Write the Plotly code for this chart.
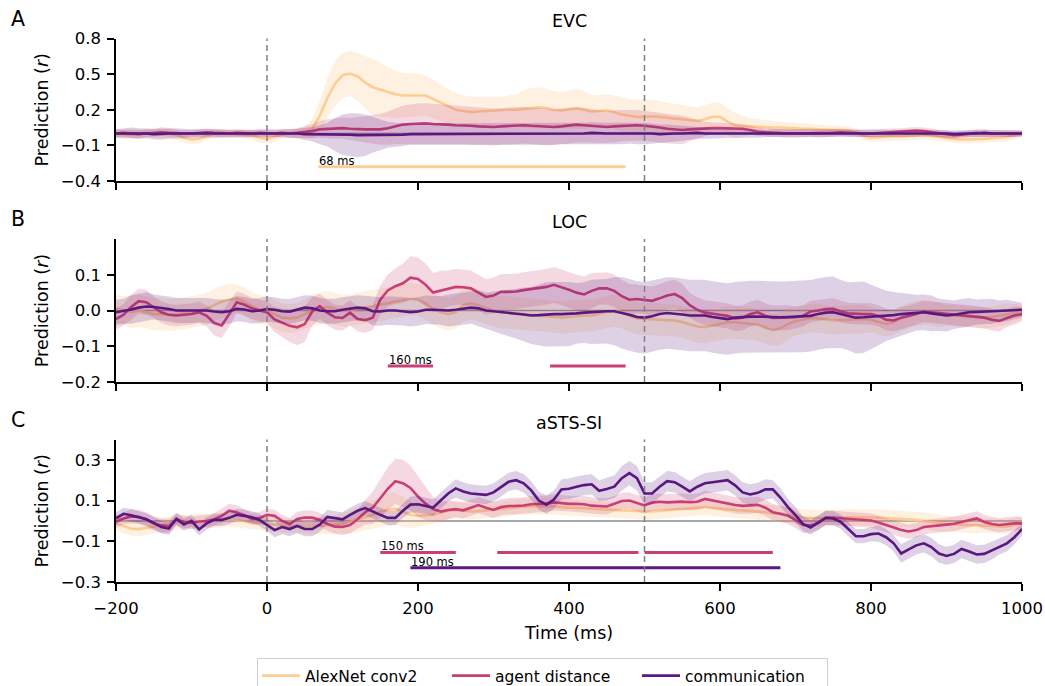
import numpy as np
import plotly.graph_objects as go

# ---------------------------------------------------------------------------
# Data: mean prediction (r) and error half-width, sampled every 10 ms
# ---------------------------------------------------------------------------
time_ms = list(range(-200, 1001, 10))

# EVC
evc_alexnet = [
    0.0, -0.005, -0.01, -0.005, 0.005, 0.0, -0.005, 0.0, -0.01, -0.035,
    -0.05, -0.045, -0.02, 0.0, 0.005, 0.0, 0.0, -0.005, -0.015, -0.035,
    -0.045, -0.03, -0.01, 0.0, 0.0, 0.01, 0.04, 0.15, 0.3, 0.42,
    0.49, 0.505, 0.48, 0.43, 0.39, 0.37, 0.35, 0.33, 0.32, 0.32,
    0.325, 0.32, 0.29, 0.26, 0.23, 0.2, 0.19, 0.18, 0.185, 0.19,
    0.19, 0.195, 0.2, 0.2, 0.205, 0.215, 0.22, 0.215, 0.2, 0.195,
    0.2, 0.21, 0.2, 0.185, 0.19, 0.195, 0.18, 0.16, 0.15, 0.14,
    0.14, 0.145, 0.14, 0.13, 0.125, 0.12, 0.11, 0.105, 0.12, 0.14,
    0.14, 0.1, 0.07, 0.06, 0.06, 0.055, 0.055, 0.05, 0.05, 0.045,
    0.045, 0.04, 0.04, 0.035, 0.035, 0.03, 0.03, 0.025, 0.01, -0.02,
    -0.035, -0.03, -0.03, -0.025, -0.025, -0.02, -0.02, -0.015, -0.02, -0.03,
    -0.04, -0.045, -0.05, -0.05, -0.045, -0.045, -0.04, -0.035, -0.03, -0.015,
    0.0,
]
evc_alexnet_err = [
    0.04, 0.04, 0.035, 0.035, 0.035, 0.035, 0.04, 0.04, 0.04, 0.04,
    0.04, 0.04, 0.035, 0.035, 0.035, 0.035, 0.035, 0.035, 0.04, 0.04,
    0.04, 0.04, 0.035, 0.035, 0.04, 0.05, 0.08, 0.13, 0.17, 0.19,
    0.19, 0.19, 0.2, 0.22, 0.24, 0.23, 0.21, 0.2, 0.19, 0.185,
    0.18, 0.17, 0.16, 0.15, 0.145, 0.14, 0.135, 0.13, 0.125, 0.12,
    0.115, 0.115, 0.12, 0.13, 0.16, 0.17, 0.17, 0.165, 0.16, 0.155,
    0.16, 0.17, 0.16, 0.14, 0.135, 0.135, 0.14, 0.145, 0.145, 0.14,
    0.15, 0.14, 0.135, 0.13, 0.125, 0.12, 0.115, 0.115, 0.12, 0.12,
    0.12, 0.115, 0.11, 0.09, 0.07, 0.065, 0.06, 0.055, 0.05, 0.05,
    0.045, 0.04, 0.04, 0.04, 0.035, 0.035, 0.035, 0.035, 0.035, 0.035,
    0.035, 0.035, 0.035, 0.035, 0.035, 0.035, 0.035, 0.035, 0.035, 0.035,
    0.035, 0.035, 0.035, 0.035, 0.035, 0.035, 0.035, 0.035, 0.035, 0.03,
    0.03,
]
evc_agent = [
    0.0, 0.005, 0.0, -0.005, 0.0, 0.005, 0.01, 0.005, 0.0, 0.0,
    0.0, 0.005, 0.01, 0.005, 0.0, 0.0, 0.005, 0.0, 0.0, 0.005,
    0.0, 0.0, 0.005, 0.0, 0.005, 0.01, 0.02, 0.035, 0.04, 0.04,
    0.045, 0.04, 0.035, 0.035, 0.035, 0.035, 0.045, 0.06, 0.075, 0.08,
    0.085, 0.085, 0.08, 0.08, 0.075, 0.07, 0.07, 0.065, 0.06, 0.055,
    0.055, 0.06, 0.065, 0.065, 0.07, 0.065, 0.06, 0.055, 0.055, 0.06,
    0.065, 0.075, 0.07, 0.065, 0.06, 0.055, 0.06, 0.065, 0.07, 0.07,
    0.065, 0.06, 0.05, 0.04, 0.035, 0.03, 0.035, 0.04, 0.04, 0.045,
    0.045, 0.045, 0.045, 0.04, 0.03, 0.015, 0.01, 0.005, 0.005, 0.0,
    0.0, 0.0, 0.005, 0.0, 0.0, 0.005, 0.01, 0.005, 0.0, 0.0,
    0.0, 0.005, 0.01, 0.01, 0.015, 0.02, 0.025, 0.02, 0.01, 0.0,
    -0.01, -0.015, -0.01, 0.0, 0.005, 0.0, 0.0, 0.005, 0.005, 0.0,
    0.0,
]
evc_agent_err = [
    0.03, 0.03, 0.035, 0.035, 0.03, 0.03, 0.03, 0.03, 0.03, 0.03,
    0.03, 0.03, 0.03, 0.03, 0.03, 0.03, 0.03, 0.03, 0.03, 0.03,
    0.03, 0.03, 0.03, 0.035, 0.04, 0.05, 0.06, 0.07, 0.08, 0.085,
    0.09, 0.09, 0.1, 0.11, 0.12, 0.13, 0.14, 0.15, 0.16, 0.165,
    0.17, 0.17, 0.17, 0.165, 0.165, 0.16, 0.16, 0.16, 0.155, 0.155,
    0.155, 0.155, 0.155, 0.155, 0.155, 0.155, 0.155, 0.155, 0.15, 0.15,
    0.15, 0.15, 0.145, 0.14, 0.14, 0.135, 0.135, 0.13, 0.13, 0.13,
    0.125, 0.125, 0.125, 0.125, 0.125, 0.12, 0.1, 0.08, 0.06, 0.05,
    0.045, 0.04, 0.04, 0.04, 0.035, 0.035, 0.035, 0.035, 0.035, 0.035,
    0.035, 0.035, 0.035, 0.035, 0.035, 0.03, 0.03, 0.03, 0.03, 0.03,
    0.03, 0.03, 0.03, 0.03, 0.03, 0.03, 0.03, 0.03, 0.03, 0.03,
    0.03, 0.03, 0.03, 0.03, 0.03, 0.03, 0.03, 0.03, 0.03, 0.03,
    0.025,
]
evc_comm = [
    0.0, 0.0, 0.005, 0.0, 0.0, -0.005, 0.0, 0.0, 0.0, 0.0,
    0.0, 0.0, 0.005, 0.0, 0.0, 0.0, 0.0, 0.0, 0.0, 0.0,
    0.0, 0.0, 0.0, 0.0, 0.0, -0.005, -0.005, -0.01, -0.01, -0.01,
    -0.01, -0.01, -0.015, -0.015, -0.01, -0.01, -0.01, -0.01, -0.01, -0.005,
    -0.005, -0.005, -0.005, 0.0, 0.0, -0.005, -0.005, -0.005, 0.0, 0.0,
    0.0, -0.005, -0.005, 0.0, 0.0, 0.0, 0.0, -0.005, -0.005, 0.0,
    0.0, 0.0, 0.0, 0.005, 0.0, 0.0, 0.0, 0.0, 0.005, 0.0,
    0.0, 0.0, -0.005, 0.0, 0.0, 0.0, 0.005, 0.005, 0.0, 0.0,
    0.0, 0.005, 0.005, 0.005, 0.0, 0.0, 0.0, 0.005, 0.005, 0.005,
    0.005, 0.005, 0.0, 0.0, 0.005, 0.005, 0.0, 0.0, 0.0, 0.0,
    0.0, 0.005, 0.005, 0.0, 0.0, 0.0, 0.0, 0.005, 0.005, 0.0,
    0.0, -0.005, 0.0, 0.0, 0.0, 0.005, 0.0, 0.0, 0.0, 0.0,
    0.0,
]
evc_comm_err = [
    0.035, 0.04, 0.045, 0.045, 0.04, 0.045, 0.05, 0.045, 0.04, 0.04,
    0.035, 0.035, 0.035, 0.035, 0.03, 0.03, 0.03, 0.03, 0.03, 0.03,
    0.03, 0.03, 0.03, 0.035, 0.04, 0.05, 0.06, 0.08, 0.1, 0.14,
    0.17, 0.18, 0.185, 0.175, 0.15, 0.13, 0.11, 0.1, 0.095, 0.09,
    0.09, 0.09, 0.09, 0.09, 0.09, 0.09, 0.09, 0.09, 0.09, 0.09,
    0.09, 0.09, 0.09, 0.09, 0.09, 0.09, 0.09, 0.09, 0.09, 0.09,
    0.09, 0.09, 0.09, 0.09, 0.09, 0.09, 0.09, 0.09, 0.09, 0.09,
    0.09, 0.085, 0.08, 0.075, 0.07, 0.06, 0.055, 0.05, 0.045, 0.045,
    0.04, 0.04, 0.035, 0.035, 0.035, 0.035, 0.03, 0.03, 0.03, 0.03,
    0.03, 0.03, 0.03, 0.03, 0.03, 0.03, 0.03, 0.03, 0.03, 0.03,
    0.03, 0.03, 0.03, 0.03, 0.03, 0.03, 0.03, 0.03, 0.03, 0.03,
    0.03, 0.03, 0.03, 0.03, 0.03, 0.03, 0.03, 0.03, 0.03, 0.03,
    0.025,
]

# LOC
loc_alexnet = [
    0.005, 0.0, -0.005, 0.0, -0.005, -0.01, -0.01, -0.012, -0.01, -0.008,
    -0.005, 0.0, 0.005, 0.015, 0.025, 0.03, 0.033, 0.025, 0.012, 0.003,
    0.0, -0.01, -0.02, -0.022, -0.02, -0.01, 0.0, 0.005, 0.01, 0.005,
    0.0, 0.0, 0.005, 0.01, 0.012, 0.015, 0.02, 0.025, 0.028, 0.032,
    0.03, 0.02, 0.005, -0.005, -0.01, -0.005, 0.015, 0.02, 0.015, 0.007,
    0.0, -0.005, -0.005, -0.008, -0.01, -0.012, -0.013, -0.014, -0.016, -0.02,
    -0.018, -0.015, -0.014, -0.014, -0.01, -0.005, 0.0, -0.005, -0.015, -0.022,
    -0.024, -0.025, -0.026, -0.027, -0.028, -0.032, -0.038, -0.045, -0.047, -0.042,
    -0.038, -0.033, -0.033, -0.035, -0.037, -0.04, -0.048, -0.055, -0.05, -0.038,
    -0.03, -0.025, -0.021, -0.022, -0.025, -0.028, -0.027, -0.025, -0.024, -0.024,
    -0.026, -0.032, -0.037, -0.033, -0.022, -0.015, -0.008, -0.005, -0.008, -0.012,
    -0.013, -0.014, -0.015, -0.016, -0.018, -0.02, -0.018, -0.014, -0.01, -0.007,
    -0.005,
]
loc_alexnet_err = [
    0.04, 0.04, 0.045, 0.045, 0.045, 0.045, 0.045, 0.045, 0.045, 0.045,
    0.045, 0.045, 0.045, 0.045, 0.045, 0.045, 0.04, 0.04, 0.04, 0.04,
    0.04, 0.04, 0.04, 0.04, 0.04, 0.04, 0.045, 0.045, 0.045, 0.045,
    0.045, 0.045, 0.045, 0.045, 0.045, 0.045, 0.045, 0.045, 0.045, 0.045,
    0.045, 0.045, 0.045, 0.045, 0.045, 0.045, 0.045, 0.045, 0.045, 0.045,
    0.045, 0.045, 0.045, 0.045, 0.045, 0.045, 0.045, 0.045, 0.045, 0.045,
    0.045, 0.045, 0.045, 0.045, 0.045, 0.045, 0.045, 0.045, 0.045, 0.045,
    0.045, 0.045, 0.045, 0.045, 0.045, 0.045, 0.045, 0.045, 0.045, 0.045,
    0.045, 0.045, 0.045, 0.045, 0.045, 0.045, 0.045, 0.045, 0.045, 0.045,
    0.04, 0.04, 0.04, 0.04, 0.04, 0.04, 0.04, 0.04, 0.04, 0.04,
    0.035, 0.035, 0.035, 0.035, 0.035, 0.035, 0.035, 0.035, 0.035, 0.035,
    0.03, 0.03, 0.03, 0.03, 0.03, 0.03, 0.03, 0.03, 0.03, 0.025,
    0.02,
]
loc_agent = [
    -0.024, -0.012, 0.01, 0.026, 0.023, 0.01, -0.005, -0.012, -0.014, -0.012,
    -0.01, -0.005, -0.015, -0.035, -0.042, -0.01, 0.023, 0.016, 0.006, 0.0,
    -0.005, -0.025, -0.035, -0.043, -0.047, -0.038, -0.002, 0.012, -0.006, -0.019,
    -0.021, -0.006, -0.024, -0.027, -0.02, 0.03, 0.056, 0.068, 0.076, 0.092,
    0.088, 0.072, 0.05, 0.056, 0.062, 0.066, 0.065, 0.062, 0.05, 0.038,
    0.042, 0.052, 0.052, 0.053, 0.057, 0.06, 0.063, 0.066, 0.072, 0.066,
    0.058, 0.05, 0.045, 0.055, 0.062, 0.062, 0.055, 0.04, 0.03, 0.032,
    0.03, 0.027, 0.034, 0.042, 0.046, 0.035, 0.015, 0.002, -0.006, -0.01,
    -0.012, -0.015, -0.022, -0.02, -0.01, -0.005, -0.015, -0.021, -0.02, -0.02,
    -0.019, -0.015, -0.003, 0.0, 0.004, 0.005, -0.003, -0.008, -0.01, -0.01,
    -0.01, -0.015, -0.026, -0.028, -0.02, -0.016, -0.01, -0.003, -0.005, -0.008,
    -0.011, -0.012, -0.013, -0.015, -0.018, -0.02, -0.026, -0.029, -0.021, -0.014,
    -0.01,
]
loc_agent_err = [
    0.03, 0.03, 0.035, 0.035, 0.035, 0.03, 0.03, 0.03, 0.03, 0.03,
    0.03, 0.03, 0.03, 0.035, 0.035, 0.035, 0.03, 0.03, 0.03, 0.03,
    0.03, 0.035, 0.04, 0.045, 0.05, 0.05, 0.04, 0.035, 0.035, 0.035,
    0.035, 0.035, 0.035, 0.035, 0.035, 0.04, 0.045, 0.05, 0.055, 0.06,
    0.06, 0.06, 0.055, 0.055, 0.05, 0.05, 0.05, 0.05, 0.05, 0.05,
    0.05, 0.05, 0.05, 0.05, 0.05, 0.05, 0.05, 0.05, 0.05, 0.05,
    0.05, 0.05, 0.05, 0.05, 0.045, 0.045, 0.045, 0.045, 0.045, 0.04,
    0.04, 0.04, 0.04, 0.04, 0.04, 0.04, 0.035, 0.035, 0.035, 0.035,
    0.035, 0.035, 0.035, 0.035, 0.035, 0.035, 0.035, 0.035, 0.035, 0.035,
    0.03, 0.03, 0.03, 0.03, 0.03, 0.03, 0.03, 0.03, 0.03, 0.03,
    0.03, 0.03, 0.03, 0.03, 0.03, 0.03, 0.03, 0.03, 0.03, 0.03,
    0.03, 0.03, 0.03, 0.03, 0.03, 0.03, 0.03, 0.03, 0.025, 0.025,
    0.02,
]
loc_comm = [
    -0.005, -0.002, 0.003, 0.008, 0.011, 0.01, 0.008, 0.004, 0.0, 0.0,
    0.0, 0.002, 0.0, -0.003, -0.005, -0.002, 0.005, 0.003, -0.002, 0.0,
    0.004, 0.002, -0.002, -0.003, 0.002, 0.008, 0.006, 0.0, -0.002, -0.002,
    0.002, 0.005, 0.008, 0.006, -0.002, -0.003, 0.0, 0.0, -0.002, -0.005,
    -0.003, 0.002, 0.002, 0.0, 0.0, 0.002, 0.005, 0.008, 0.006, 0.0,
    -0.002, -0.005, -0.007, -0.009, -0.011, -0.014, -0.013, -0.011, -0.01, -0.01,
    -0.01, -0.008, -0.006, -0.004, -0.003, -0.002, -0.002, -0.006, -0.012, -0.018,
    -0.02, -0.016, -0.01, -0.007, -0.008, -0.011, -0.014, -0.014, -0.014, -0.018,
    -0.022, -0.024, -0.02, -0.018, -0.017, -0.017, -0.018, -0.019, -0.019, -0.018,
    -0.017, -0.017, -0.015, -0.01, -0.006, -0.005, -0.01, -0.016, -0.02, -0.019,
    -0.018, -0.017, -0.015, -0.013, -0.01, -0.008, -0.006, -0.005, -0.008, -0.012,
    -0.014, -0.012, -0.008, -0.005, -0.004, -0.003, -0.002, -0.002, 0.0, 0.001,
    0.002,
]
loc_comm_err = [
    0.035, 0.035, 0.04, 0.04, 0.04, 0.035, 0.035, 0.035, 0.035, 0.035,
    0.035, 0.035, 0.035, 0.035, 0.035, 0.035, 0.035, 0.035, 0.035, 0.035,
    0.035, 0.035, 0.035, 0.035, 0.035, 0.035, 0.035, 0.035, 0.035, 0.035,
    0.035, 0.035, 0.035, 0.035, 0.04, 0.04, 0.04, 0.04, 0.04, 0.04,
    0.04, 0.04, 0.04, 0.04, 0.045, 0.045, 0.045, 0.045, 0.05, 0.05,
    0.055, 0.06, 0.065, 0.07, 0.075, 0.08, 0.085, 0.09, 0.09, 0.09,
    0.09, 0.085, 0.085, 0.09, 0.09, 0.09, 0.095, 0.1, 0.1, 0.1,
    0.1, 0.1, 0.1, 0.1, 0.1, 0.1, 0.1, 0.1, 0.1, 0.1,
    0.1, 0.1, 0.1, 0.1, 0.1, 0.1, 0.1, 0.1, 0.1, 0.1,
    0.1, 0.1, 0.1, 0.1, 0.1, 0.1, 0.095, 0.095, 0.1, 0.1,
    0.09, 0.08, 0.07, 0.065, 0.06, 0.055, 0.05, 0.05, 0.05, 0.045,
    0.045, 0.04, 0.04, 0.04, 0.035, 0.035, 0.035, 0.03, 0.03, 0.025,
    0.02,
]

# aSTS-SI
asts_alexnet = [
    -0.012, -0.025, -0.038, -0.04, -0.035, -0.028, -0.02, -0.012, -0.008, -0.005,
    -0.003, 0.0, 0.0, 0.002, 0.005, 0.005, 0.003, 0.0, -0.005, -0.01,
    -0.015, -0.02, -0.022, -0.025, -0.025, -0.026, -0.025, -0.025, -0.022, -0.018,
    -0.012, -0.005, 0.005, 0.018, 0.03, 0.045, 0.055, 0.06, 0.045, 0.03,
    0.025, 0.028, 0.03, 0.04, 0.05, 0.054, 0.05, 0.046, 0.048, 0.052,
    0.054, 0.058, 0.065, 0.068, 0.07, 0.071, 0.072, 0.073, 0.072, 0.068,
    0.066, 0.062, 0.06, 0.058, 0.056, 0.054, 0.053, 0.051, 0.05, 0.048,
    0.046, 0.047, 0.05, 0.053, 0.054, 0.058, 0.062, 0.066, 0.068, 0.064,
    0.06, 0.057, 0.054, 0.052, 0.05, 0.046, 0.043, 0.038, 0.034, 0.029,
    0.024, 0.018, 0.014, 0.013, 0.014, 0.016, 0.018, 0.018, 0.018, 0.018,
    0.018, 0.016, 0.014, 0.012, 0.01, 0.008, 0.005, 0.0, -0.005, -0.012,
    -0.015, -0.017, -0.018, -0.019, -0.02, -0.022, -0.025, -0.027, -0.028, -0.02,
    -0.008,
]
asts_alexnet_err = [
    0.035, 0.035, 0.035, 0.035, 0.035, 0.035, 0.035, 0.035, 0.035, 0.035,
    0.035, 0.035, 0.035, 0.035, 0.035, 0.035, 0.035, 0.035, 0.035, 0.035,
    0.035, 0.035, 0.035, 0.035, 0.035, 0.035, 0.04, 0.04, 0.04, 0.045,
    0.05, 0.055, 0.06, 0.065, 0.07, 0.075, 0.08, 0.08, 0.075, 0.065,
    0.055, 0.05, 0.045, 0.045, 0.045, 0.04, 0.04, 0.04, 0.04, 0.04,
    0.04, 0.04, 0.04, 0.04, 0.04, 0.04, 0.04, 0.04, 0.04, 0.04,
    0.04, 0.04, 0.04, 0.04, 0.04, 0.04, 0.04, 0.04, 0.04, 0.04,
    0.04, 0.04, 0.04, 0.04, 0.04, 0.04, 0.04, 0.04, 0.04, 0.04,
    0.04, 0.04, 0.04, 0.04, 0.04, 0.04, 0.04, 0.04, 0.04, 0.04,
    0.04, 0.04, 0.04, 0.04, 0.04, 0.04, 0.04, 0.04, 0.04, 0.04,
    0.04, 0.04, 0.04, 0.04, 0.04, 0.04, 0.04, 0.04, 0.04, 0.04,
    0.04, 0.04, 0.04, 0.04, 0.04, 0.035, 0.035, 0.035, 0.035, 0.035,
    0.03,
]
asts_agent = [
    -0.003, 0.012, 0.022, 0.02, 0.008, -0.012, -0.022, -0.026, 0.008, -0.005,
    -0.01, -0.003, 0.0, 0.008, 0.025, 0.05, 0.042, 0.028, 0.01, 0.014,
    0.03, 0.025, 0.0, -0.015, 0.01, 0.017, 0.016, 0.005, -0.015, -0.028,
    -0.03, -0.02, 0.008, 0.043, 0.065, 0.11, 0.158, 0.195, 0.185, 0.162,
    0.12, 0.085, 0.058, 0.046, 0.054, 0.058, 0.052, 0.065, 0.078, 0.065,
    0.054, 0.068, 0.073, 0.074, 0.076, 0.082, 0.082, 0.085, 0.091, 0.087,
    0.084, 0.084, 0.082, 0.075, 0.073, 0.071, 0.084, 0.098, 0.1, 0.087,
    0.076, 0.09, 0.094, 0.091, 0.094, 0.095, 0.092, 0.094, 0.108, 0.1,
    0.091, 0.084, 0.078, 0.074, 0.075, 0.079, 0.065, 0.043, 0.035, 0.025,
    0.005, -0.02, -0.022, -0.01, 0.015, 0.016, 0.013, 0.01, 0.008, 0.005,
    0.002, -0.008, -0.02, -0.033, -0.045, -0.052, -0.045, -0.03, -0.025, -0.02,
    -0.018, -0.014, -0.006, 0.004, 0.012, -0.005, -0.015, -0.02, -0.016, -0.012,
    -0.012,
]
asts_agent_err = [
    0.03, 0.03, 0.035, 0.035, 0.035, 0.035, 0.035, 0.035, 0.03, 0.03,
    0.03, 0.03, 0.03, 0.03, 0.035, 0.035, 0.035, 0.03, 0.03, 0.03,
    0.03, 0.03, 0.03, 0.03, 0.035, 0.035, 0.035, 0.035, 0.035, 0.035,
    0.04, 0.04, 0.045, 0.06, 0.08, 0.095, 0.105, 0.11, 0.115, 0.11,
    0.1, 0.08, 0.06, 0.05, 0.045, 0.04, 0.04, 0.04, 0.04, 0.04,
    0.04, 0.04, 0.04, 0.04, 0.04, 0.04, 0.04, 0.04, 0.04, 0.04,
    0.04, 0.04, 0.04, 0.04, 0.04, 0.04, 0.04, 0.04, 0.04, 0.04,
    0.04, 0.04, 0.04, 0.04, 0.04, 0.04, 0.04, 0.04, 0.04, 0.04,
    0.04, 0.04, 0.04, 0.04, 0.04, 0.04, 0.04, 0.04, 0.04, 0.04,
    0.04, 0.04, 0.035, 0.035, 0.035, 0.035, 0.035, 0.035, 0.035, 0.035,
    0.035, 0.035, 0.035, 0.035, 0.035, 0.035, 0.035, 0.035, 0.035, 0.035,
    0.035, 0.035, 0.035, 0.035, 0.035, 0.035, 0.035, 0.035, 0.035, 0.035,
    0.03,
]
asts_comm = [
    0.013, 0.035, 0.028, 0.018, 0.008, -0.01, -0.03, -0.038, 0.01, -0.018,
    0.0, -0.042, -0.012, 0.005, 0.005, 0.015, 0.03, 0.025, 0.018, 0.005,
    -0.02, -0.045, -0.03, -0.04, -0.025, -0.04, -0.04, -0.018, 0.02, 0.013,
    0.008, 0.03, 0.05, 0.063, 0.045, 0.03, 0.015, 0.015, 0.05, 0.08,
    0.082, 0.075, 0.065, 0.1, 0.135, 0.16, 0.145, 0.135, 0.13, 0.128,
    0.14, 0.165, 0.192, 0.2, 0.185, 0.15, 0.1, 0.08, 0.105, 0.155,
    0.158, 0.168, 0.176, 0.18, 0.148, 0.157, 0.168, 0.21, 0.235, 0.21,
    0.135, 0.135, 0.168, 0.195, 0.19, 0.168, 0.145, 0.168, 0.185, 0.19,
    0.195, 0.2, 0.175, 0.14, 0.13, 0.138, 0.155, 0.155, 0.115, 0.068,
    0.028, -0.015, -0.032, -0.01, 0.015, 0.012, -0.005, -0.04, -0.075, -0.075,
    -0.065, -0.062, -0.08, -0.11, -0.16, -0.14, -0.12, -0.11, -0.128, -0.16,
    -0.172, -0.162, -0.138, -0.15, -0.165, -0.162, -0.145, -0.125, -0.11, -0.08,
    -0.04,
]
asts_comm_err = [
    0.03, 0.03, 0.03, 0.03, 0.03, 0.03, 0.03, 0.03, 0.03, 0.03,
    0.03, 0.03, 0.03, 0.03, 0.03, 0.03, 0.03, 0.03, 0.03, 0.03,
    0.03, 0.035, 0.035, 0.035, 0.035, 0.035, 0.035, 0.035, 0.035, 0.035,
    0.035, 0.035, 0.035, 0.035, 0.035, 0.035, 0.035, 0.035, 0.035, 0.04,
    0.04, 0.04, 0.04, 0.04, 0.04, 0.045, 0.045, 0.045, 0.045, 0.045,
    0.045, 0.045, 0.045, 0.045, 0.045, 0.045, 0.045, 0.045, 0.045, 0.05,
    0.05, 0.05, 0.05, 0.05, 0.05, 0.055, 0.055, 0.06, 0.06, 0.06,
    0.055, 0.055, 0.05, 0.05, 0.05, 0.05, 0.05, 0.05, 0.05, 0.05,
    0.05, 0.05, 0.05, 0.05, 0.05, 0.05, 0.05, 0.045, 0.045, 0.04,
    0.04, 0.035, 0.035, 0.035, 0.035, 0.035, 0.035, 0.035, 0.035, 0.035,
    0.035, 0.04, 0.04, 0.04, 0.045, 0.045, 0.045, 0.045, 0.045, 0.045,
    0.045, 0.045, 0.045, 0.045, 0.045, 0.045, 0.045, 0.04, 0.04, 0.035,
    0.03,
]

# Significant clusters [start, end] in ms
evc_alexnet_sig = [[68, 475]]
loc_agent_sig = [[160, 220], [375, 475]]
asts_agent_sig = [[150, 250], [305, 492], [500, 670]]
asts_comm_sig = [[190, 680]]

series_names = ["AlexNet conv2", "agent distance", "communication"]
panel_titles = ["EVC", "LOC", "aSTS-SI"]
panel_letters = ["A", "B", "C"]
x_ticks = [-200, 0, 200, 400, 600, 800, 1000]
y_ticks = [
    [-0.4, -0.1, 0.2, 0.5, 0.8],
    [-0.2, -0.1, 0.0, 0.1],
    [-0.3, -0.1, 0.1, 0.3],
]

# ---------------------------------------------------------------------------
# Styling / layout
# ---------------------------------------------------------------------------
W, H = 1045, 686
FONT = "DejaVu Sans"
TICK_SIZE = 16.5
LABEL_SIZE = 17.5
line_colors = ["#fdcd92", "#c93f75", "#5a1780"]
band_colors = ["rgba(253,205,146,0.28)", "rgba(201,63,117,0.20)", "rgba(90,23,128,0.20)"]

x_px = (116, 1022)
panel_px = [(38.5, 181), (239, 382), (439.5, 582)]
y_ranges = [(-0.4, 0.8), (-0.2, 0.2), (-0.3, 0.4)]

panel_data = [
    [(evc_alexnet, evc_alexnet_err), (evc_agent, evc_agent_err), (evc_comm, evc_comm_err)],
    [(loc_alexnet, loc_alexnet_err), (loc_agent, loc_agent_err), (loc_comm, loc_comm_err)],
    [(asts_alexnet, asts_alexnet_err), (asts_agent, asts_agent_err), (asts_comm, asts_comm_err)],
]
# (panel, series index, clusters, bar height in data units)
sig_bars = [
    (0, 0, evc_alexnet_sig, -0.28),
    (1, 1, loc_agent_sig, -0.155),
    (2, 1, asts_agent_sig, -0.155),
    (2, 2, asts_comm_sig, -0.23),
]

t = np.array(time_ms, dtype=float)
fig = go.Figure()

for p, series in enumerate(panel_data):
    xa = "x" if p == 0 else f"x{p + 1}"
    ya = "y" if p == 0 else f"y{p + 1}"
    for s, (mean, err) in enumerate(series):
        m = np.array(mean, dtype=float)
        e = np.array(err, dtype=float)
        assert len(m) == len(t) and len(e) == len(t)
        upper, lower = m + e, m - e
        fig.add_trace(go.Scatter(
            x=np.concatenate([t, t[::-1]]), y=np.concatenate([upper, lower[::-1]]),
            fill="toself", fillcolor=band_colors[s],
            line=dict(width=0, color="rgba(0,0,0,0)"),
            hoverinfo="skip", showlegend=False, xaxis=xa, yaxis=ya,
        ))
        fig.add_trace(go.Scatter(
            x=t, y=m, mode="lines", name=series_names[s],
            line=dict(color=line_colors[s], width=2.6),
            showlegend=(p == 0), legendgroup=series_names[s],
            xaxis=xa, yaxis=ya,
        ))

annotations = []
for p, s, clusters, ybar in sig_bars:
    xa = "x" if p == 0 else f"x{p + 1}"
    ya = "y" if p == 0 else f"y{p + 1}"
    for start, end in clusters:
        fig.add_trace(go.Scatter(
            x=[start, end], y=[ybar, ybar], mode="lines",
            line=dict(color=line_colors[s], width=3),
            showlegend=False, hoverinfo="skip", xaxis=xa, yaxis=ya,
        ))
    annotations.append(dict(
        x=clusters[0][0], y=ybar, xref=xa, yref=ya, text=f"{clusters[0][0]} ms",
        showarrow=False, xanchor="left", yanchor="bottom", yshift=-3, xshift=-1,
        font=dict(family=FONT, size=11.5, color="black"),
    ))

shapes = []
for p in range(3):
    xa = "x" if p == 0 else f"x{p + 1}"
    ya = "y" if p == 0 else f"y{p + 1}"
    # zero reference line
    shapes.append(dict(type="line", xref=xa, yref=ya, x0=-200, x1=1000, y0=0, y1=0,
                       line=dict(color="#8a8a8a", width=1.5), layer="below"))
    # stimulus onset / offset markers
    for xv in (0, 500):
        shapes.append(dict(type="line", xref=xa, yref=f"{ya} domain", x0=xv, x1=xv, y0=0, y1=1,
                           line=dict(color="#808080", width=1.5, dash="6px,4px"), layer="above"))

layout_axes = {}
for p in range(3):
    top, bot = panel_px[p]
    xkey = "xaxis" if p == 0 else f"xaxis{p + 1}"
    ykey = "yaxis" if p == 0 else f"yaxis{p + 1}"
    ya = "y" if p == 0 else f"y{p + 1}"
    xa = "x" if p == 0 else f"x{p + 1}"
    layout_axes[xkey] = dict(
        domain=[x_px[0] / W, x_px[1] / W], anchor=ya, range=[-200, 1000],
        tickvals=x_ticks, showticklabels=(p == 2), ticks="outside", ticklen=7, tickwidth=1.5,
        tickcolor="black", showline=True, linecolor="black", linewidth=1.5,
        showgrid=False, zeroline=False, automargin=False, ticklabelstandoff=3,
        tickfont=dict(family=FONT, size=TICK_SIZE, color="black"),
    )
    layout_axes[ykey] = dict(
        domain=[1 - bot / H, 1 - top / H], anchor=xa, range=list(y_ranges[p]),
        tickvals=y_ticks[p], tickformat=".1f", ticks="outside", ticklen=7, tickwidth=1.5,
        tickcolor="black", showline=True, linecolor="black", linewidth=1.5,
        showgrid=False, zeroline=False, automargin=False, ticklabelstandoff=3,
        tickfont=dict(family=FONT, size=TICK_SIZE, color="black"),
        title=dict(text="Prediction (<i>r</i>)", font=dict(family=FONT, size=LABEL_SIZE, color="black"),
                   standoff=8),
    )
    annotations.append(dict(
        x=(x_px[0] + x_px[1]) / 2 / W, y=1 - (top - 17) / H, xref="paper", yref="paper",
        text=panel_titles[p], showarrow=False, xanchor="center", yanchor="middle",
        font=dict(family=FONT, size=LABEL_SIZE, color="black"),
    ))
    annotations.append(dict(
        x=18 / W, y=1 - (top - 20) / H, xref="paper", yref="paper",
        text=panel_letters[p], showarrow=False, xanchor="center", yanchor="middle",
        font=dict(family=FONT, size=20.5, color="black"),
    ))

layout_axes["xaxis3"]["title"] = dict(text="Time (ms)", font=dict(family=FONT, size=LABEL_SIZE, color="black"),
                                      standoff=10)

fig.update_layout(
    width=W, height=H, margin=dict(l=0, r=0, t=0, b=0, autoexpand=False),
    paper_bgcolor="white", plot_bgcolor="white",
    font=dict(family=FONT, color="black"),
    shapes=shapes, annotations=annotations,
    showlegend=True,
    legend=dict(
        orientation="h", x=257 / W, y=1 - 658 / H, xanchor="left", yanchor="top",
        bordercolor="#d0d0d0", borderwidth=1, bgcolor="white",
        font=dict(family=FONT, size=15.5, color="black"),
        itemwidth=38, tracegroupgap=0, entrywidth=137,
    ),
    **layout_axes,
)

fig.write_html("out.html")
